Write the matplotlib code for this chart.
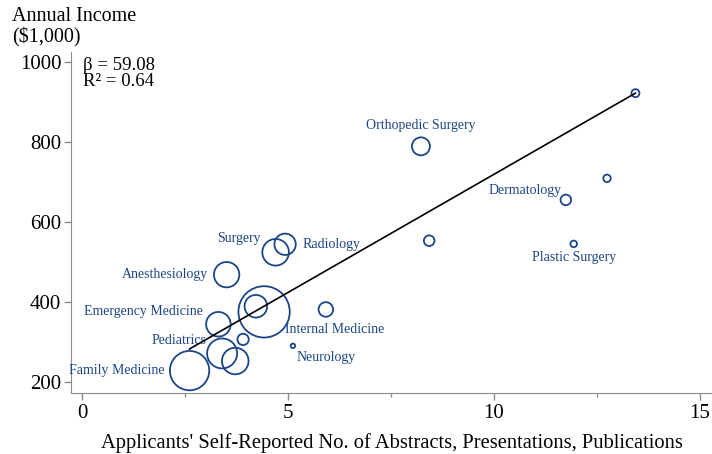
import numpy as np
import matplotlib
matplotlib.use('Agg')
import matplotlib.pyplot as plt
import matplotlib as mpl


# ========================= Style ========================= #

mpl.rcParams.update({
    'font.family'     : 'Liberation Serif',
    'font.size'       : 14,
    'axes.edgecolor'  : '#8c8c8c',
    'xtick.color'     : '#8c8c8c',
    'ytick.color'     : '#8c8c8c',
    'xtick.labelcolor': 'black',
    'ytick.labelcolor': 'black',
})

navy = '#1c4587'


# ========================= Data ========================= #

specialty = ['', 'Orthopedic Surgery', '', 'Dermatology', '', 'Plastic Surgery',
             'Surgery', 'Radiology', 'Anesthesiology', 'Internal Medicine', '',
             '', 'Emergency Medicine', '', 'Pediatrics', '', 'Neurology',
             'Family Medicine']

n_abstracts = [13.44, 8.23, 12.75, 11.75, 8.43, 11.94,
               4.70, 4.93, 3.51, 4.42, 4.22,
               5.92, 3.31, 3.91, 3.40, 3.72, 5.12,
               2.61]

income = [922, 789, 709, 655, 553, 545,
          524, 544, 468, 375, 389,
          381, 344, 306, 271, 252, 290,
          228]

# poids relatif des bulles (aire)
weight = [16, 81, 14, 28, 28, 11,
          177, 114, 161, 660, 128,
          53, 151, 32, 225, 177, 5,
          388]

fit_slope     = 59.08
fit_intercept = 128.0
r2            = 0.64


# =============== Position des étiquettes (points) =============== #

label_pos = {
    'Orthopedic Surgery': ((0, 15), 'center'),
    'Dermatology'       : ((-3, 7), 'right'),
    'Plastic Surgery'   : ((0, -9.6), 'center'),
    'Surgery'           : ((-11, 9.6), 'right'),
    'Radiology'         : ((12.7, 0), 'left'),
    'Anesthesiology'    : ((-13, 0), 'right'),
    'Internal Medicine' : ((15.4, -12.7), 'left'),
    'Emergency Medicine': ((-11, 9), 'right'),
    'Pediatrics'        : ((-11, 9.4), 'right'),
    'Neurology'         : ((2.9, -8.2), 'left'),
    'Family Medicine'   : ((-18.3, 0), 'right'),
}


# ========================= Figure ========================= #

fig = plt.figure(figsize=(7.12, 4.54), dpi=100)
ax = fig.add_axes([71/712, 61/454, 641/712, 341/454])

sizes = np.array(weight) * 2.07
ax.scatter(n_abstracts, income, s=sizes, facecolors='none',
           edgecolors=navy, linewidths=1.3, zorder=3)

# Droite de régression
x_fit = np.array([min(n_abstracts), max(n_abstracts)])
ax.plot(x_fit, fit_intercept + fit_slope * x_fit, color='black', lw=1.2, zorder=4)

for name, x, y in zip(specialty, n_abstracts, income):
    if name == '':
        continue
    off, ha = label_pos[name]
    ax.annotate(name, (x, y), xytext=off, textcoords='offset points',
                ha=ha, va='center', fontsize=10, color=navy)

# Axes
ax.set_xlim(-0.27, 15.3)
ax.set_ylim(172, 1025)
ax.set_xticks([0, 5, 10, 15])
ax.set_xticks([2.5, 7.5, 12.5], minor=True)
ax.set_yticks([200, 400, 600, 800, 1000])
ax.tick_params(axis='both', which='major', length=5, width=1, labelsize=15)
ax.tick_params(axis='y', which='major', pad=2)
ax.tick_params(axis='x', which='major', pad=3)
ax.tick_params(axis='x', which='minor', length=3, width=1)
for s in ['top', 'right']:
    ax.spines[s].set_visible(False)
ax.set_xlabel("Applicants' Self-Reported No. of Abstracts, Presentations, Publications",
              fontsize=14.8, labelpad=7)

fig.text(12/712, 1 - 7/454, 'Annual Income\n($1,000)', ha='left', va='top',
         fontsize=14.5, linespacing=1.12)
ax.text(0.018, 0.985, f'β = {fit_slope:.2f}\nR² = {r2:.2f}', transform=ax.transAxes,
        ha='left', va='top', fontsize=13.5, linespacing=0.95)

fig.savefig('out.png', dpi=100)
